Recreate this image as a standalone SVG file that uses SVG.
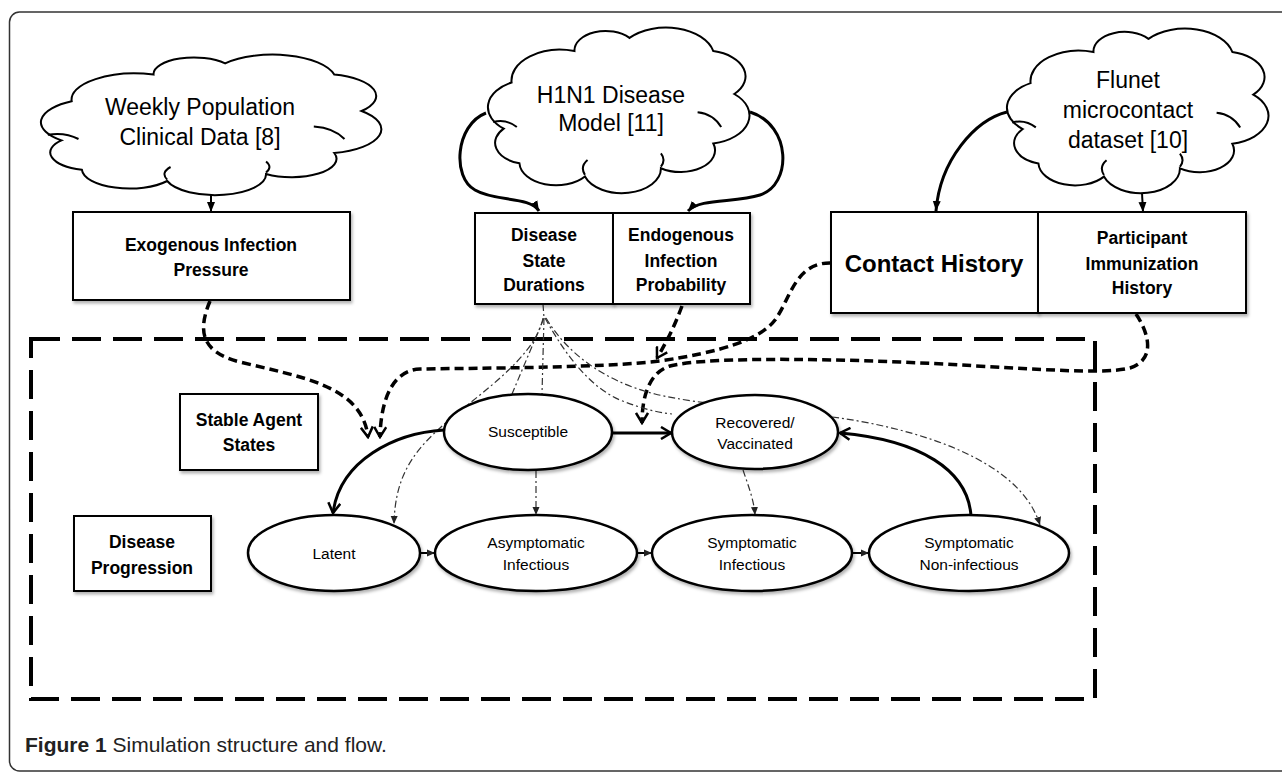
<svg xmlns="http://www.w3.org/2000/svg" xmlns:xlink="http://www.w3.org/1999/xlink" width="1282" height="774" viewBox="0 0 1282 774">
<style>
text{font-family:"Liberation Sans",Arial,sans-serif;fill:#000}
.ct{font-size:23px;text-anchor:middle}
.bt{font-size:17.5px;font-weight:bold;text-anchor:middle}
.et{font-size:15.5px;text-anchor:middle}
.box{fill:#fff;stroke:#000;stroke-width:2}
.ell{fill:#fff;stroke:#000;stroke-width:2.5}
.cloud{fill:#fff;stroke:#000;stroke-width:2;vector-effect:non-scaling-stroke}
.inner{fill:none;stroke:#000;stroke-width:2;vector-effect:non-scaling-stroke}
.solid{fill:none;stroke:#000;stroke-width:3}
.thin{fill:none;stroke:#000;stroke-width:2}
.dash{fill:none;stroke:#000;stroke-width:3.5;stroke-dasharray:9 5}
.dd{fill:none;stroke:#333;stroke-width:1.2;stroke-dasharray:7 3 2 3}
</style>
<defs>
<filter id="sh" x="-10%" y="-10%" width="130%" height="140%">
<feDropShadow dx="1.5" dy="2.5" stdDeviation="1.8" flood-color="#000" flood-opacity="0.3"/>
</filter>
<marker id="tri" viewBox="0 0 10 10" refX="10" refY="5" markerWidth="10" markerHeight="10" markerUnits="userSpaceOnUse" orient="auto">
<path d="M0,1 L10,5 L0,9 z" fill="#000"/>
</marker>
<marker id="chev" viewBox="0 0 14 14" refX="12" refY="7" markerWidth="14" markerHeight="14" markerUnits="userSpaceOnUse" orient="auto">
<path d="M2,1 L12,7 L2,13" fill="none" stroke="#000" stroke-width="2.5" stroke-dasharray="none"/>
</marker>
<marker id="sm" viewBox="0 0 8 8" refX="8" refY="4" markerWidth="8" markerHeight="8" markerUnits="userSpaceOnUse" orient="auto">
<path d="M0,0.5 L8,4 L0,7.5 z" fill="#222"/>
</marker>
<path id="cloudShape" class="cloud" d="M9,33 A17,17 0 0 0 6,61 A12.9,12.9 0 0 0 12,82 A14,14 0 0 0 37,90 A14.9,14.9 0 0 0 66,85 A13.2,13.2 0 0 0 86,70 A17.4,17.4 0 0 0 94,40 A15.6,15.6 0 0 0 86,14 A18.6,18.6 0 0 0 54,6 A11.9,11.9 0 0 0 33,14 A18.6,18.6 0 0 0 9,33 Z"/>
<path id="cloudInner" class="inner" d="M2,57 Q7,55 11,60 M37,89 Q35,84 38,80 M80,51 Q86,52 89,60 M66,84 Q68,80 66,76"/>
</defs>

<rect x="9.5" y="12" width="1300" height="759" rx="10" fill="none" stroke="#333" stroke-width="1.5"/>
<rect id="region" x="31" y="339" width="1064" height="360" fill="none" stroke="#000" stroke-width="4" stroke-dasharray="29 12"/>

<g id="connectors">
<line class="thin" x1="211" y1="195" x2="211" y2="212" marker-end="url(#tri)"/>
<path class="solid" d="M486,113 C455,125 452,178 475,190 C495,202 530,196 539,211" marker-end="url(#tri)"/>
<path class="solid" d="M750,112 C792,125 792,185 760,195 C735,203 700,198 688,211" marker-end="url(#tri)"/>
<path class="solid" d="M1007,112 C975,120 940,160 936,211" marker-end="url(#tri)"/>
<line class="thin" x1="1142" y1="193" x2="1143" y2="212" marker-end="url(#tri)"/>

<path class="dash" d="M210,301 C198,330 200,352 240,362 C300,377 362,385 368,437" marker-end="url(#chev)"/>
<path class="dash" d="M831,263 C795,262 790,300 775,320 C760,340 720,352 660,361 C600,368 480,368 420,369 C395,370 381,395 380,437" marker-end="url(#chev)"/>
<path class="dash" d="M682,306 C676,322 670,336 657,358" marker-end="url(#chev)"/>
<path class="dash" d="M1136,314 C1150,335 1155,360 1130,368 C1100,376 1000,366 900,362 C800,358 700,358 670,366 C650,372 642,395 642,423" marker-end="url(#chev)"/>

<path class="dd" d="M543,304 L544,318 L512,394"/>
<path class="dd" d="M544,318 L542,394"/>
<path class="dd" d="M545,318 C560,345 585,385 620,400 C640,408 655,412 672,414"/>
<path class="dd" d="M546,318 C565,350 600,380 655,394 C700,405 780,410 840,418 C920,430 1020,460 1040,525" marker-end="url(#sm)"/>
<path class="dd" d="M543,318 C535,360 470,400 440,428 C410,455 395,480 394,524" marker-end="url(#sm)"/>
<path class="dd" d="M536,471 L536,515" marker-end="url(#sm)"/>
<path class="dd" d="M743,470 C748,485 754,500 755,515" marker-end="url(#sm)"/>

<line class="solid" x1="612" y1="433" x2="671" y2="433" marker-end="url(#chev)"/>
<path class="solid" d="M444,430 C395,433 340,460 333,513" marker-end="url(#chev)"/>
<path class="solid" d="M971,516 C968,470 920,440 840,433" marker-end="url(#chev)"/>

<line class="thin" x1="420" y1="553" x2="435" y2="553" marker-end="url(#sm)"/>
<line class="thin" x1="637" y1="553" x2="652" y2="553" marker-end="url(#sm)"/>
<line class="thin" x1="852" y1="553" x2="869" y2="553" marker-end="url(#sm)"/>
</g>

<g id="cloud-weekly">
<use xlink:href="#cloudShape" href="#cloudShape" transform="translate(41,55) scale(3.41,1.40)"/>
<use xlink:href="#cloudInner" href="#cloudInner" transform="translate(41,55) scale(3.41,1.40)"/>
<text class="ct" x="200" y="115">Weekly Population</text>
<text class="ct" x="200" y="145">Clinical Data [8]</text>
</g>
<g id="cloud-h1n1">
<use xlink:href="#cloudShape" href="#cloudShape" transform="translate(488,28) scale(2.62,1.65)"/>
<use xlink:href="#cloudInner" href="#cloudInner" transform="translate(488,28) scale(2.62,1.65)"/>
<text class="ct" x="611" y="103">H1N1 Disease</text>
<text class="ct" x="611" y="131">Model [11]</text>
</g>
<g id="cloud-flunet">
<use xlink:href="#cloudShape" href="#cloudShape" transform="translate(1007,29) scale(2.62,1.64)"/>
<use xlink:href="#cloudInner" href="#cloudInner" transform="translate(1007,29) scale(2.62,1.64)"/>
<text class="ct" x="1128" y="88">Flunet</text>
<text class="ct" x="1128" y="118">microcontact</text>
<text class="ct" x="1128" y="148">dataset [10]</text>
</g>

<g id="box-exogenous">
<rect class="box" x="73" y="212" width="277" height="88" filter="url(#sh)"/>
<text class="bt" x="211" y="251">Exogenous Infection</text>
<text class="bt" x="211" y="276">Pressure</text>
</g>
<g id="box-durations">
<rect class="box" x="475" y="213" width="138" height="91" filter="url(#sh)"/>
<text class="bt" x="544" y="241">Disease</text>
<text class="bt" x="544" y="267">State</text>
<text class="bt" x="544" y="291">Durations</text>
</g>
<g id="box-endogenous">
<rect class="box" x="613" y="213" width="137" height="91" filter="url(#sh)"/>
<text class="bt" x="681" y="241">Endogenous</text>
<text class="bt" x="681" y="267">Infection</text>
<text class="bt" x="681" y="291">Probability</text>
</g>
<g id="box-contact">
<rect class="box" x="831" y="212" width="207" height="101" filter="url(#sh)"/>
<text x="934" y="272" style="font-size:24px;font-weight:bold;text-anchor:middle">Contact History</text>
</g>
<g id="box-immunization">
<rect class="box" x="1038" y="212" width="208" height="101" filter="url(#sh)"/>
<text class="bt" x="1142" y="244">Participant</text>
<text class="bt" x="1142" y="270">Immunization</text>
<text class="bt" x="1142" y="294">History</text>
</g>
<g id="box-stable">
<rect class="box" x="180" y="394" width="138" height="76" filter="url(#sh)"/>
<text class="bt" x="249" y="426">Stable Agent</text>
<text class="bt" x="249" y="451">States</text>
</g>
<g id="box-progression">
<rect class="box" x="74" y="516" width="137" height="75" filter="url(#sh)"/>
<text class="bt" x="142" y="548">Disease</text>
<text class="bt" x="142" y="574">Progression</text>
</g>

<g id="node-susceptible">
<ellipse class="ell" cx="528" cy="432" rx="84" ry="38" filter="url(#sh)"/>
<text class="et" x="528" y="437">Susceptible</text>
</g>
<g id="node-recovered">
<ellipse class="ell" cx="755" cy="432" rx="83" ry="37" filter="url(#sh)"/>
<text class="et" x="755" y="428">Recovered/</text>
<text class="et" x="755" y="449">Vaccinated</text>
</g>
<g id="node-latent">
<ellipse class="ell" cx="334" cy="553" rx="86" ry="38" filter="url(#sh)"/>
<text class="et" x="334" y="559">Latent</text>
</g>
<g id="node-asymptomatic">
<ellipse class="ell" cx="536" cy="553" rx="101" ry="38" filter="url(#sh)"/>
<text class="et" x="536" y="548">Asymptomatic</text>
<text class="et" x="536" y="570">Infectious</text>
</g>
<g id="node-symptomatic-inf">
<ellipse class="ell" cx="752" cy="553" rx="100" ry="38" filter="url(#sh)"/>
<text class="et" x="752" y="548">Symptomatic</text>
<text class="et" x="752" y="570">Infectious</text>
</g>
<g id="node-symptomatic-noninf">
<ellipse class="ell" cx="969" cy="553" rx="100" ry="38" filter="url(#sh)"/>
<text class="et" x="969" y="548">Symptomatic</text>
<text class="et" x="969" y="570">Non-infectious</text>
</g>

<text x="25" y="752" style="font-size:21px;fill:#222"><tspan font-weight="bold">Figure 1</tspan> Simulation structure and flow.</text>
</svg>
